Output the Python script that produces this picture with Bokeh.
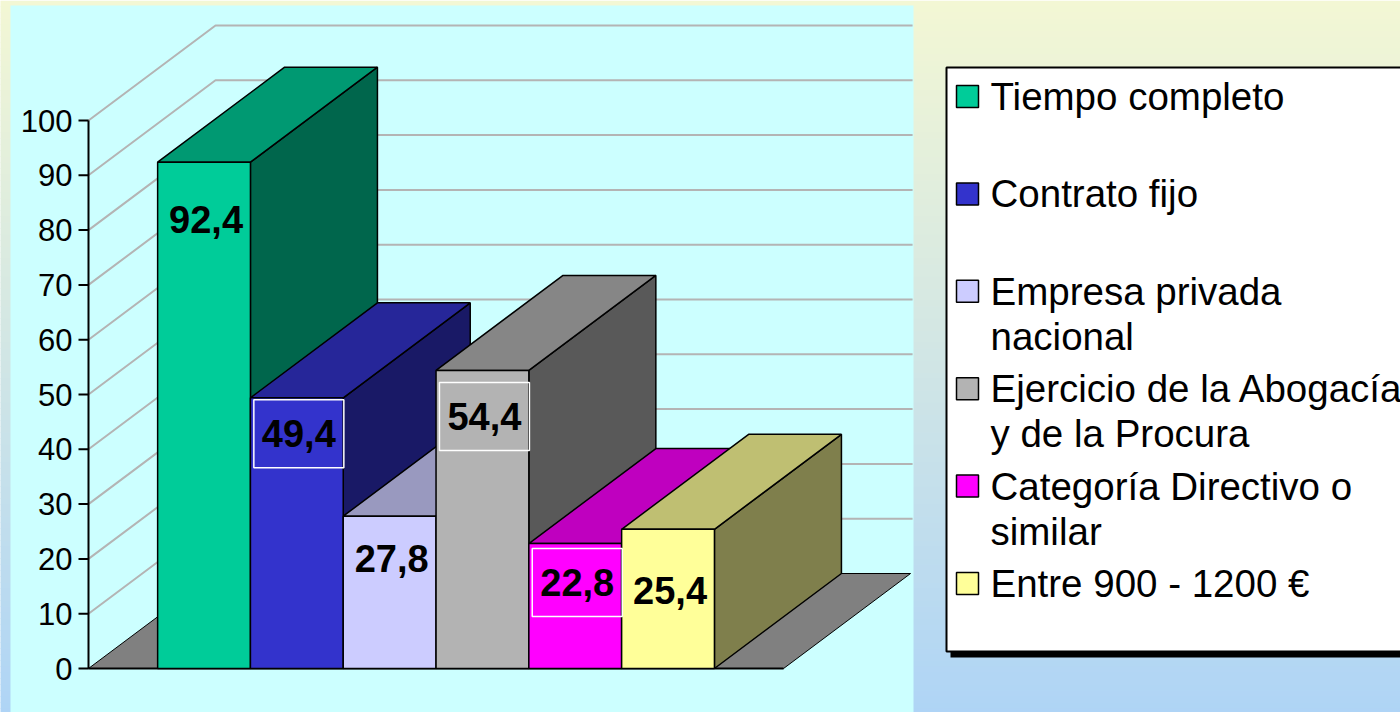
from bokeh.plotting import figure
from bokeh.models import Range1d
from bokeh.embed import file_html
from bokeh.resources import INLINE
from bokeh.core.properties import value

# ---------------- data ----------------
series = ["Tiempo completo", "Contrato fijo", "Empresa privada nacional",
          "Ejercicio de la Abogacía y de la Procura",
          "Categoría Directivo o similar", "Entre 900 - 1200 €"]
legend_lines = [["Tiempo completo"], ["Contrato fijo"],
                ["Empresa privada", "nacional"],
                ["Ejercicio de la Abogacía", "y de la Procura"],
                ["Categoría Directivo o", "similar"],
                ["Entre 900 - 1200 €"]]
values = [92.4, 49.4, 27.8, 54.4, 22.8, 25.4]
value_labels = ["92,4", "49,4", "27,8", "54,4", "22,8", "25,4"]
y_ticks = [0, 10, 20, 30, 40, 50, 60, 70, 80, 90, 100]
y_tick_labels = [str(t) for t in y_ticks]

# ---------------- styles ----------------
colors = ["#00CC99", "#3333CC", "#CCCCFF", "#B3B3B3", "#FF00FF", "#FFFF99"]
label_dy = [57, 36, 42, 46, 39, 61]          # px below bar top (label centre)
label_boxed = [False, True, False, True, True, False]
FONT = value("Liberation Sans")

W, H = 1400, 712
MARGIN = 0
OX, OY = 88.0, 668.0        # page position of data origin
PX_X, PX_Y = 92.8, 5.48     # px per bar width, px per value unit
GAP = 0.745
DX, DY = 127.0 / PX_X, 95.0 / PX_Y
FLOOR_W = len(values) + 2 * GAP


def X(sx):
    return (sx - OX) / PX_X


def Y(sy):
    return (OY - sy) / PX_Y


def shade(hexc, f):
    r, g, b = int(hexc[1:3], 16), int(hexc[3:5], 16), int(hexc[5:7], 16)
    return "#%02x%02x%02x" % (int(r * f), int(g * f), int(b * f))


p = figure(width=W, height=H,
           x_range=Range1d((MARGIN - OX) / PX_X, (MARGIN + W - OX) / PX_X),
           y_range=Range1d((OY - (MARGIN + H)) / PX_Y, (OY - MARGIN) / PX_Y),
           output_backend="svg", toolbar_location=None, tools="",
           x_axis_type=None, y_axis_type=None, min_border=0,
           outline_line_color=None, background_fill_color=None,
           border_fill_color=None)

# background gradient (light yellow -> light blue)
top_c = (243, 247, 212)
bot_c = (174, 212, 246)
n = 120
lefts, rights, tops, bots, cols = [], [], [], [], []
for k in range(n):
    y0 = 720.0 * k / n
    y1 = 720.0 * (k + 1) / n + 0.5
    t = (k + 0.5) / n
    c = tuple(int(round(top_c[j] + (bot_c[j] - top_c[j]) * t)) for j in range(3))
    lefts.append(X(-10)); rights.append(X(1410))
    tops.append(Y(y0)); bots.append(Y(y1))
    cols.append("#%02x%02x%02x" % c)
p.quad(left=lefts, right=rights, top=tops, bottom=bots, fill_color=cols,
       line_color=None)

# plot area
p.quad(left=X(10), right=X(913), top=Y(5), bottom=Y(730),
       fill_color="#CCFFFF", line_color=None)

# wall gridlines
gx, gy = [], []
for t in y_ticks[1:]:
    gx.append([0, DX, FLOOR_W + DX + 2 / PX_X])
    gy.append([t, t + DY, t + DY])
p.multi_line(xs=gx, ys=gy, line_color="#B4B4B4", line_width=2)

# floor
p.patch([0, FLOOR_W, FLOOR_W + DX, DX], [0, 0, DY, DY],
        fill_color="#808080", line_color="black", line_width=1)

# value axis
p.segment(x0=0, y0=0, x1=0, y1=y_ticks[-1], line_color="black", line_width=2)
p.segment(x0=[X(78)] * len(y_ticks), y0=y_ticks, x1=[0] * len(y_ticks),
          y1=y_ticks, line_color="black", line_width=2)
p.segment(x0=0, y0=0, x1=FLOOR_W, y1=0, line_color="black", line_width=2)
p.text(x=[X(72)] * len(y_ticks), y=y_ticks, text=y_tick_labels,
       text_font=FONT, text_font_size="31px", text_align="right",
       text_baseline="middle", text_color="black")

# 3D bars, drawn left to right
for i, v in enumerate(values):
    x0 = GAP + i
    x1 = x0 + 1
    front = colors[i]
    xs = [[x1, x1 + DX, x1 + DX, x1],
          [x0, x1, x1 + DX, x0 + DX],
          [x0, x1, x1, x0]]
    ys = [[0, DY, v + DY, v],
          [v, v, v + DY, v + DY],
          [0, 0, v, v]]
    p.patches(xs=xs, ys=ys,
              fill_color=[shade(front, 0.5), shade(front, 0.75), front],
              line_color="black", line_width=1.5)

# value labels
lx = [GAP + i + 0.5 + 2 / PX_X for i in range(len(values))]
ly = [v - d / PX_Y for v, d in zip(values, label_dy)]
p.text(x=lx, y=ly, text=value_labels, text_font=FONT, text_font_size="38px",
       text_font_style="bold", text_align="center", text_baseline="middle",
       text_color="black")
bx = [x for x, b in zip(lx, label_boxed) if b]
by = [y for y, b in zip(ly, label_boxed) if b]
p.rect(x=bx, y=by, width=90, height=68, width_units="screen",
       height_units="screen", fill_color=None, line_color="white",
       line_width=1.5)

# legend
p.quad(left=X(950), right=X(1420), top=Y(73), bottom=Y(657),
       fill_color="black", line_color=None)
p.quad(left=X(946), right=X(1420), top=Y(67), bottom=Y(651),
       fill_color="white", line_color="black", line_width=2)
step = 97.4
sw_top = [85 + step * i for i in range(len(series))]
p.quad(left=[X(956)] * len(series), right=[X(978)] * len(series),
       top=[Y(s) for s in sw_top], bottom=[Y(s + 22) for s in sw_top],
       fill_color=colors, line_color="black", line_width=1.5)
tx, ty, tt = [], [], []
for i, lines in enumerate(legend_lines):
    for j, line in enumerate(lines):
        tx.append(X(990))
        ty.append(Y(sw_top[i] + 11 + 45 * j))
        tt.append(line)
p.text(x=tx, y=ty, text=tt, text_font=FONT, text_font_size="38.5px",
       text_align="left", text_baseline="middle", text_color="black")

open("out.html", "w").write(file_html(p, INLINE))
